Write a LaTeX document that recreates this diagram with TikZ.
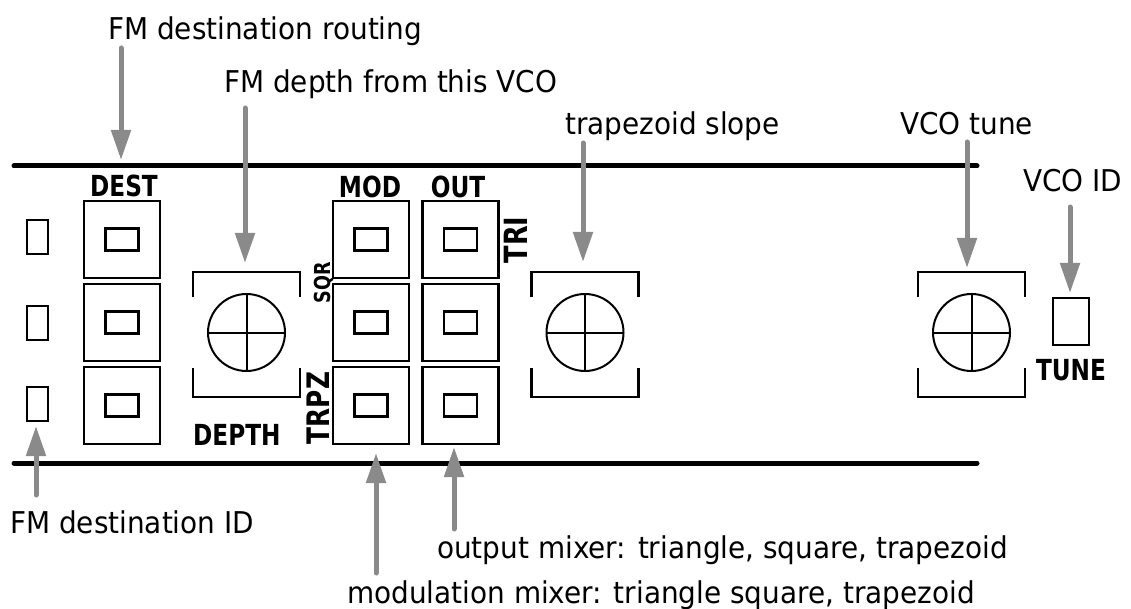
\documentclass[tikz,border=0pt]{standalone}
\usepackage{fontspec}
\setmainfont{DejaVu Sans}[FakeStretch=0.93]
\newfontfamily\panelfont{DejaVu Sans}[FakeStretch=0.8]
\usetikzlibrary{arrows.meta}
\definecolor{arrgray}{HTML}{8A8A8A}
\tikzset{
  lbl/.style={anchor=base west, inner sep=0pt, font=\fontsize{30}{30}\selectfont},
  plbl/.style={inner sep=0pt, font=\panelfont\bfseries\fontsize{29}{29}\selectfont},
  slot/.style={draw, line width=2.6pt, minimum width=76pt, minimum height=77pt, inner sep=0pt},
  led/.style={draw, line width=2.6pt, minimum width=33pt, minimum height=22pt, inner sep=0pt},
  jack/.style={draw, line width=2.6pt, minimum width=21pt, minimum height=34pt, inner sep=0pt},
  rail/.style={line width=5pt, line cap=round},
  callout/.style={draw=arrgray, line width=5pt, line cap=round, -{Triangle[length=30pt,width=19pt]}},
  knob/.pic={
    \draw[line width=2.6pt] (-53.5,-37.5) -- (-53.5,-62.5) -- (53.5,-62.5) -- (53.5,-37.5);
    \draw[line width=2.6pt] (-53.5,33.5) -- (-53.5,62.5) -- (53.5,62.5) -- (53.5,33.5);
    \draw[line width=2pt] (0,-2) circle[radius=38.5pt];
    \draw[line width=2pt] (-38.5,-2) -- (38.5,-2) (0,-40.5) -- (0,36.5);
  }
}
\begin{document}
\begin{tikzpicture}[x=1pt,y=-1pt]
\useasboundingbox (0,0) rectangle (1131,609);
% rails
\draw[rail] (14,166) coordinate (railTL) -- (977,166) coordinate (railTR);
\draw[rail] (14,463) coordinate (railBL) -- (977,463) coordinate (railBR);
% left jacks
\node[jack] (jack1) at (37.5,237) {};
\node[jack] (jack2) at (37.5,323) {};
\node[jack] (jack3) at (37.5,404) {};
% DEST column
\node[plbl] (dest) at (124,186) {DEST};
\foreach \i/\y in {1/239.5,2/322.5,3/405.5}{
  \node[slot] (dest\i) at (122,\y) {};
  \node[led] (dest\i l) at (122,\y) {};
}
% MOD / OUT columns
\node[plbl] (mod) at (370,187) {MOD};
\node[plbl] (out) at (458,187) {OUT};
\foreach \i/\y in {1/239.5,2/322.5,3/405.5}{
  \node[slot] (mod\i) at (371,\y) {};
  \node[led] (mod\i l) at (371,\y) {};
  \node[slot] (out\i) at (460.5,\y) {};
  \node[led] (out\i l) at (460.5,\y) {};
}
\node[plbl, rotate=90, font=\panelfont\bfseries\fontsize{32}{32}\selectfont] (tri) at (516,240) {TRI};
\node[plbl, rotate=90, font=\panelfont\bfseries\fontsize{22}{22}\selectfont] (sqr) at (324,283) {SQR};
\node[plbl, rotate=90, font=\panelfont\bfseries\fontsize{31}{31}\selectfont] (trpz) at (318,408) {TRPZ};
% knobs
\pic (depthknob) at (246.5,334.5) {knob};
\pic (trapknob) at (585,334.5) {knob};
\pic (tuneknob) at (971.5,334.5) {knob};
\node[plbl, anchor=west] (depth) at (193,435) {DEPTH};
% VCO ID
\node[jack, minimum width=36pt, minimum height=47pt] (vcoid) at (1071,321.5) {};
\node[plbl] (tune) at (1071,370) {TUNE};
% labels
\node[lbl] (lRouting) at (108,40) {FM destination routing};
\node[lbl] (lDepth) at (224,93) {FM depth from this VCO};
\node[lbl] (lSlope) at (565,135) {trapezoid slope};
\node[lbl] (lTune) at (900,135) {VCO tune};
\node[lbl] (lVcoid) at (1023,192) {VCO ID};
\node[lbl] (lDestid) at (10,533) {FM destination ID};
\node[lbl] (lOut) at (437,558) {output mixer: triangle, square, trapezoid};
\node[lbl] (lMod) at (347,603) {modulation mixer: triangle square, trapezoid};
% callout ends
\coordinate (aRoutingS) at (121,48);   \coordinate (aRoutingE) at (121,160);
\coordinate (aDepthS) at (245,108);    \coordinate (aDepthE) at (245,263);
\coordinate (aSlopeS) at (583,143);    \coordinate (aSlopeE) at (583,262);
\coordinate (aTuneS) at (967,142);     \coordinate (aTuneE) at (967,268);
\coordinate (aVcoidS) at (1070,207);   \coordinate (aVcoidE) at (1070,293);
\coordinate (aDestidS) at (36,495);    \coordinate (aDestidE) at (36,426);
\coordinate (aModS) at (376,573);      \coordinate (aModE) at (376,453);
\coordinate (aOutS) at (454,529);      \coordinate (aOutE) at (454,447);
\foreach \n in {Routing,Depth,Slope,Tune,Vcoid,Destid,Mod,Out}{
  \draw[callout] (a\n S) -- (a\n E);
}
\end{tikzpicture}
\end{document}
